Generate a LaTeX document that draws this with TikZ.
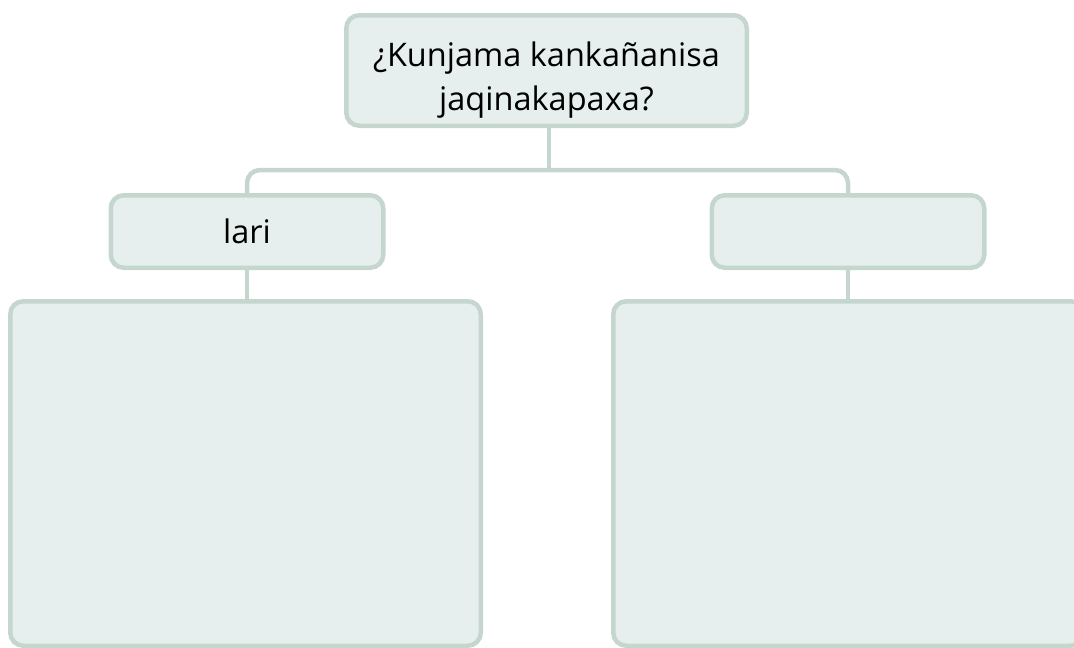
\documentclass[tikz,border=0pt]{standalone}
\usepackage{fontspec}
\setmainfont{Open Sans}
\definecolor{boxfill}{HTML}{E6EFED}
\definecolor{boxline}{HTML}{C5D6CF}
\begin{document}
\begin{tikzpicture}[x=1pt,y=-1pt,
    card/.style={draw=boxline,fill=boxfill,line width=4.5pt,rounded corners=13pt,
      align=center,inner sep=0pt,font=\fontsize{32.5}{44}\selectfont},
    link/.style={draw=boxline,line width=4.5pt,rounded corners=13pt}]
      \clip (0,0) rectangle (1074,648);
      \node[card,minimum width=400.5pt,minimum height=110.5pt,text height=88pt,text depth=8pt] (q) at (546.5,70.5)
        {¿Kunjama kankañanisa\\jaqinakapaxa?};
      \node[card,minimum width=272.5pt,minimum height=72.5pt] (lari) at (247,231.5) {lari};
      \node[card,minimum width=272.5pt,minimum height=72.5pt] (blank) at (848,231.5) {};
      \node[card,minimum width=470.5pt,minimum height=344.5pt] (lbox) at (245.5,473.5) {};
      \node[card,minimum width=470.5pt,minimum height=344.5pt] (rbox) at (848.5,473.5) {};
      \coordinate (bar) at (549,170);
      \begin{scope}[link]
        \draw (q.south -| bar) -- (bar);
        \draw (lari.north) |- (bar) -| (blank.north);
        \draw (lari.south) -- (lbox.north -| lari.south);
        \draw (blank.south) -- (rbox.north -| blank.south);
      \end{scope}
    \end{tikzpicture}
\end{document}
